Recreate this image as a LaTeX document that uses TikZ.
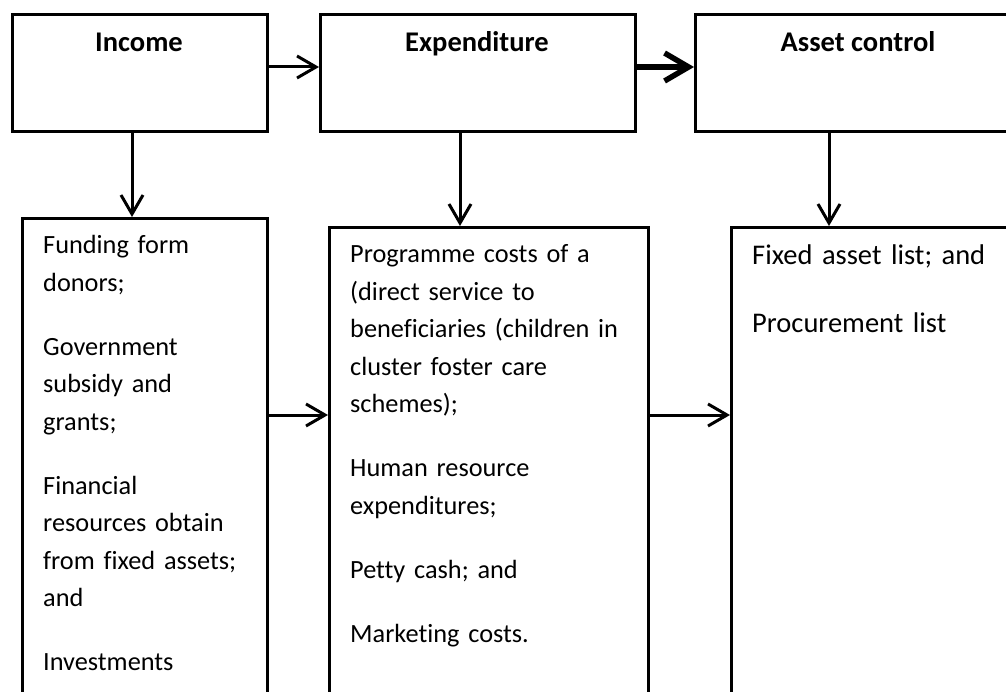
\documentclass[tikz,border=0pt]{standalone}
\usepackage{fontspec}
\setmainfont{Carlito}[Ligatures={NoCommon}]
\usetikzlibrary{arrows.meta}
\begin{document}
\begin{tikzpicture}[x=1pt,y=-1pt,
  box/.style={draw=black,line width=3pt,fill=none,inner sep=0pt,anchor=north west},
  title/.style={font=\bfseries\fontsize{28.5}{30}\selectfont,anchor=base},
  list/.style={anchor=base west,align=left,inner sep=0pt,text width=#1,
    font=\fontsize{26.3}{37.5}\selectfont},
  arr/.style={line width=3pt,-{Straight Barb[length=19pt,width=22pt,line width=3pt]}},
  thickarr/.style={line width=5.5pt,-{Straight Barb[length=24pt,width=28pt,line width=5.5pt]}}]
\useasboundingbox (0,0) rectangle (1006,692);
\clip (0,0) rectangle (1006,692);
% top boxes
\node[box,minimum width=255pt,minimum height=117pt] (inc) at (11,13) {};
\node[box,minimum width=315pt,minimum height=117pt] (exp) at (319,13) {};
\node[box,minimum width=340pt,minimum height=117pt] (ast) at (694,13) {};
\node[title] (incT) at (139,51.5) {Income};
\node[title] (expT) at (477,52) {Expenditure};
\node[title] (astT) at (858,52) {Asset control};
% lower boxes
\node[box,minimum width=245pt,minimum height=520pt] (incl) at (21,217) {};
\node[box,minimum width=319pt,minimum height=520pt] (expl) at (328,226) {};
\node[box,minimum width=320pt,minimum height=520pt] (astl) at (730,226) {};
% texts
\node[list=215pt] (incX) at (43,254) {Funding form\\donors;\\[26.5pt]Government\\subsidy and\\grants;\\[26.5pt]Financial\\resources obtain\\from fixed assets;\\and\\[26.5pt]Investments};
\node[list=290pt] (expX) at (350,263) {Programme costs of a\\(direct service to\\beneficiaries (children in\\cluster foster care\\schemes);\\[26.5pt]Human resource\\expenditures;\\[26.5pt]Petty cash; and\\[26.5pt]Marketing costs.};
\node[list=250pt,font=\fontsize{28.5}{40}\selectfont] (astX) at (752,265) {Fixed asset list; and\\[28pt]Procurement list};
% connectors
\draw[arr] (inc.east |- 0,67) -- (exp.west |- 0,67);
\draw[thickarr] (exp.east |- 0,67) -- (ast.west |- 0,67);
\draw[arr] (inc.south -| 132,0) -- (incl.north -| 132,0);
\draw[arr] (exp.south -| 460,0) -- (expl.north -| 460,0);
\draw[arr] (ast.south -| 829,0) -- (astl.north -| 829,0);
\draw[arr] (incl.east |- 0,415) -- (expl.west |- 0,415);
\draw[arr] (expl.east |- 0,415) -- (astl.west |- 0,415);
\end{tikzpicture}
\end{document}
